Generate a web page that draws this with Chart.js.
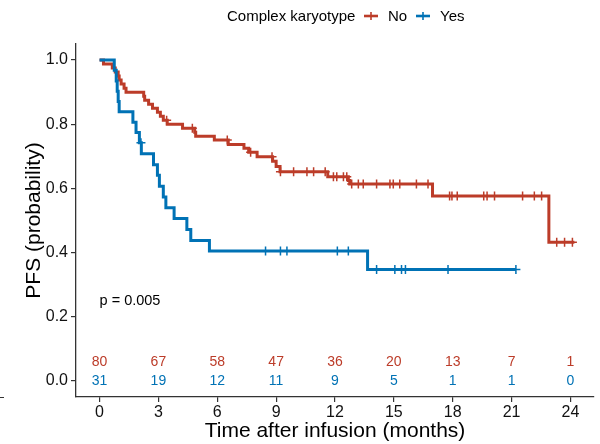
<!DOCTYPE html>
<html>
<head>
<meta charset="utf-8">
<script src="https://cdn.jsdelivr.net/npm/chart.js@4.4.1/dist/chart.umd.min.js"></script>
<style>
html,body{margin:0;padding:0;background:#fff;}
#wrap{width:600px;height:444px;position:relative;}
</style>
</head>
<body>
<div id="wrap"><canvas id="c" width="600" height="444"></canvas></div>
<script>
// ---- data ----
const noTimes = [0,0.2,0.65,0.8,0.95,1.0,1.1,1.25,1.35,2.25,2.3,2.5,2.7,2.95,3.1,3.25,3.45,4.23,4.85,4.9,5.85,6.56,7.36,7.6,8.03,8.82,9.0,9.2,11.63,12.68,12.75,16.97,22.9,24.2];
const noSurv  = [1,0.9875,0.975,0.9625,0.95,0.9375,0.925,0.9125,0.9,0.8875,0.875,0.8625,0.85,0.8375,0.825,0.8125,0.8,0.7875,0.775,0.7625,0.751,0.737,0.725,0.713,0.699,0.685,0.668,0.652,0.636,0.625,0.614,0.576,0.432,0.432];
const noCensor = [3.42,4.73,6.51,7.7,8.79,9.22,9.89,10.57,10.91,11.5,11.92,12.09,12.43,12.6,12.85,13.19,13.44,14.12,14.8,14.97,15.3,16.15,16.74,17.84,17.96,18.23,19.58,19.75,20.13,21.56,22.16,22.53,23.3,23.7,24.1];

const yesTimes = [0,0.75,0.85,0.9,0.95,1.0,1.7,1.86,2.03,2.13,2.75,2.95,3.05,3.25,3.38,3.8,4.45,4.65,5.6,13.66,21.22];
const yesSurv  = [1,0.968,0.935,0.903,0.871,0.839,0.806,0.774,0.742,0.708,0.674,0.641,0.607,0.573,0.540,0.506,0.472,0.438,0.405,0.347,0.347];
const yesCensor = [2.11,8.46,9.22,9.55,12.12,12.68,14.12,15.05,15.39,15.59,17.76,21.22];

const xTicks = [0,3,6,9,12,15,18,21,24];
const yTicks = [0,0.2,0.4,0.6,0.8,1.0];
const riskTimes = [0,3,6,9,12,15,18,21,24];
const riskNo  = [80,67,58,47,36,20,13,7,1];
const riskYes = [31,19,12,11,9,5,1,1,0];

const legendTitle = "Complex karyotype";
const groupNames = ["No","Yes"];
const pValueText = "p = 0.005";
const xTitle = "Time after infusion (months)";
const yTitle = "PFS (probability)";

// ---- styling ----
const RED = "#BC3C29", BLUE = "#0072B5";
const FONT = "'Liberation Sans', Arial, Helvetica, sans-serif";

function steps(times, surv){ return times.map((t,i)=>({x:t,y:surv[i]})); }
function survAt(times, surv, t){
  let s = surv[0];
  for(let i=0;i<times.length;i++){ if(times[i]<=t) s = surv[i]; }
  return s;
}
function censorPts(cens, times, surv){ return cens.map(t=>({x:t,y:survAt(times,surv,t)})); }

const overlay = {
  id:'overlay',
  afterDraw(chart){
    const ctx = chart.ctx, xs = chart.scales.x, ys = chart.scales.y;
    ctx.save();
    // risk table
    ctx.font = "14px " + FONT;
    ctx.textAlign = "center"; ctx.textBaseline = "middle";
    riskTimes.forEach((t,i)=>{
      const px = xs.getPixelForValue(t);
      ctx.fillStyle = RED;  ctx.fillText(String(riskNo[i]),  px, ys.getPixelForValue(0.059));
      ctx.fillStyle = BLUE; ctx.fillText(String(riskYes[i]), px, ys.getPixelForValue(0));
    });
    // p value
    ctx.fillStyle = "#000";
    ctx.font = "14.5px " + FONT;
    ctx.textAlign = "left";
    ctx.fillText(pValueText, xs.getPixelForValue(0), ys.getPixelForValue(0.25));
    // legend
    ctx.font = "15px " + FONT;
    ctx.textBaseline = "alphabetic";
    ctx.fillStyle = "#000";
    ctx.fillText(legendTitle, 227, 21);
    function cross(cx, cy, col){
      ctx.strokeStyle = col;
      ctx.lineWidth = 2.6;
      ctx.beginPath(); ctx.moveTo(cx-7, cy); ctx.lineTo(cx+7, cy); ctx.stroke();
      ctx.lineWidth = 1.6;
      ctx.beginPath(); ctx.moveTo(cx, cy-4); ctx.lineTo(cx, cy+4); ctx.stroke();
    }
    cross(371, 16, RED);
    ctx.fillStyle = "#000"; ctx.fillText(groupNames[0], 388, 21);
    cross(423, 16, BLUE);
    ctx.fillStyle = "#000"; ctx.fillText(groupNames[1], 440, 21);
    // small stray mark at bottom-left
    ctx.strokeStyle = "#333"; ctx.lineWidth = 1;
    ctx.beginPath(); ctx.moveTo(0, 397.5); ctx.lineTo(4, 397.5); ctx.stroke();
    ctx.restore();
  }
};

new Chart(document.getElementById('c'), {
  type: 'line',
  data: {
    datasets: [
      {label:'Yes', data: steps(yesTimes,yesSurv), stepped:true, borderColor:BLUE, borderWidth:3, pointRadius:0, fill:false, order:1},
      {label:'Yes censored', type:'scatter', data: censorPts(yesCensor,yesTimes,yesSurv), pointStyle:'cross', pointRadius:4.5, borderColor:BLUE, backgroundColor:BLUE, pointBorderWidth:1.5, order:0},
      {label:'No', data: steps(noTimes,noSurv), stepped:true, borderColor:RED, borderWidth:3, pointRadius:0, fill:false, order:3},
      {label:'No censored', type:'scatter', data: censorPts(noCensor,noTimes,noSurv), pointStyle:'cross', pointRadius:4.5, borderColor:RED, backgroundColor:RED, pointBorderWidth:1.5, order:2}
    ]
  },
  options: {
    responsive:false,
    animation:false,
    layout:{padding:{top:44,right:1,left:0,bottom:0}},
    plugins:{legend:{display:false}, tooltip:{enabled:false}},
    scales:{
      x:{
        type:'linear', min:-1.2, max:25.2,
        afterBuildTicks(s){ s.ticks = xTicks.map(v=>({value:v})); },
        afterFit(s){ s.height = 47; },
        grid:{drawOnChartArea:false, drawTicks:true, tickLength:5, color:'#333', lineWidth:1.2},
        border:{display:true, color:'#333', width:1.3},
        ticks:{font:{family:FONT, size:16}, color:'#111', padding:1, maxRotation:0,
               callback:(v)=>String(v)},
        title:{display:true, text:xTitle, font:{family:FONT, size:21}, color:'#000', padding:{top:0,bottom:0}}
      },
      y:{
        type:'linear', min:-0.05, max:1.05,
        afterBuildTicks(s){ s.ticks = yTicks.map(v=>({value:v})); },
        afterFit(s){ s.width = 76; },
        grid:{drawOnChartArea:false, drawTicks:true, tickLength:5, color:'#333', lineWidth:1.2},
        border:{display:true, color:'#333', width:1.3},
        ticks:{font:{family:FONT, size:16}, color:'#111', padding:3,
               callback:(v)=>v.toFixed(1)},
        title:{display:true, text:yTitle, font:{family:FONT, size:21}, color:'#000', padding:{top:22,bottom:0}}
      }
    }
  },
  plugins:[overlay]
});
</script>
</body>
</html>
